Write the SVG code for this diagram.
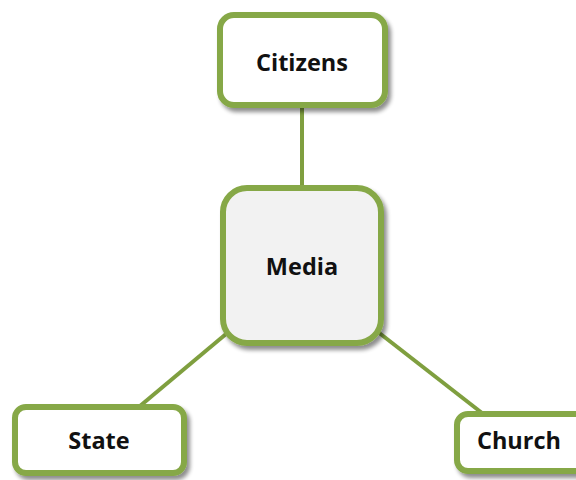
<svg xmlns="http://www.w3.org/2000/svg" width="576" height="480" viewBox="0 0 576 480">
<defs>
<filter id="sh" x="-20%" y="-20%" width="140%" height="140%">
<feGaussianBlur in="SourceAlpha" stdDeviation="2"/>
<feOffset dx="3" dy="4" result="b"/>
<feComponentTransfer><feFuncA type="linear" slope="0.45"/></feComponentTransfer>
<feMerge><feMergeNode/><feMergeNode in="SourceGraphic"/></feMerge>
</filter>
</defs>
<style>
.box{fill:#ffffff;stroke:#86a847;stroke-width:6;filter:url(#sh)}
.mid{fill:#f2f2f2}
.lbl{font-family:"Open Sans","Noto Sans",sans-serif;font-weight:bold;font-size:23.5px;fill:#111;text-anchor:middle;dominant-baseline:central}
.con{stroke:#7f9f3f;stroke-width:4;fill:none}
</style>
<rect width="576" height="480" fill="#ffffff"/>
<g id="connectors">
<line class="con" x1="302" y1="107" x2="302" y2="188"/>
<line class="con" x1="226" y1="334" x2="140" y2="406"/>
<line class="con" x1="378" y1="332" x2="482" y2="413"/>
</g>
<g id="citizens">
<rect class="box" x="220" y="15" width="165" height="90" rx="14"/>
<text class="lbl" x="302" y="62">Citizens</text>
</g>
<g id="media">
<rect class="box mid" x="223" y="188" width="158" height="155" rx="24"/>
<text class="lbl" x="302" y="266">Media</text>
</g>
<g id="state">
<rect class="box" x="15" y="407" width="169" height="66" rx="11"/>
<text class="lbl" x="99" y="440">State</text>
</g>
<g id="church">
<rect class="box" x="457" y="414" width="130" height="57" rx="11"/>
<text class="lbl" x="519" y="440">Church</text>
</g>
</svg>
